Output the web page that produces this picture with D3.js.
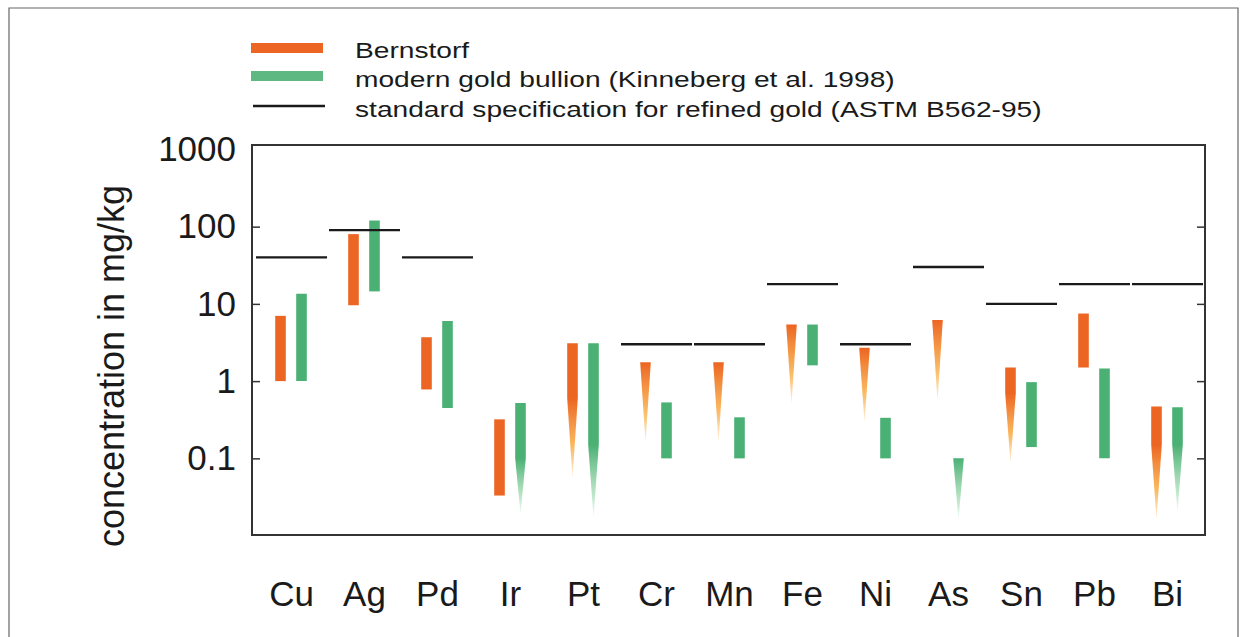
<!DOCTYPE html>
<html>
<head>
<meta charset="utf-8">
<script src="https://cdn.jsdelivr.net/npm/d3@7"></script>
<style>
  body { margin: 0; background: #fff; }
  text { font-family: "Liberation Sans", Arial, Helvetica, sans-serif; fill: #1a1a1a; }
</style>
</head>
<body>
<svg id="chart" width="1246" height="637"></svg>
<script>
// elements on the x axis
var elements = ["Cu", "Ag", "Pd", "Ir", "Pt", "Cr", "Mn", "Fe", "Ni", "As", "Sn", "Pb", "Bi"];

// Bernstorf gold: upper value, value where the bar starts to taper, lower value (mg/kg)
var bernTop   = [7,   80,  3.7, 0.32,  3.1,  1.75, 1.75, 5.4, 2.7,  6.2,  1.5,   7.5, 0.47];
var bernTaper = [1,   9.6, 0.78, 0.033, 0.6, 1.75, 1.75, 5.4, 2.7,  6.2,  0.7,   1.5, 0.15];
var bernLow   = [1,   9.6, 0.78, 0.033, 0.055, 0.16, 0.16, 0.5, 0.29, 0.55, 0.085, 1.5, 0.016];

// modern gold bullion (Kinneberg et al. 1998)
var bullTop   = [13.5, 120,  6,    0.52,  3.1,  0.53, 0.34, 5.4, 0.335, 0.1,   0.97, 1.46, 0.46];
var bullTaper = [1,    14.5, 0.45, 0.1,   0.15, 0.1,  0.1,  1.6, 0.1,   0.1,   0.14, 0.1,  0.15];
var bullLow   = [1,    14.5, 0.45, 0.019, 0.017, 0.1, 0.1,  1.6, 0.1,   0.016, 0.14, 0.1,  0.02];

// ASTM B562-95 limits (null = no limit drawn)
var astmLimit = [40, 90, 40, null, null, 3, 3, 18, 3, 30, 10, 18, 18];

var yTicks = [0.1, 1, 10, 100, 1000];
var legendLabels = ["Bernstorf", "modern gold bullion (Kinneberg et al. 1998)",
                    "standard specification for refined gold (ASTM B562-95)"];

var orange = "#ec6522", orangeLight = "#f9ad45",
    green = "#4bb074", greenLight = "#a3dbb4";

var frame = {left: 252, right: 1205, top: 145, bottom: 535};

var svg = d3.select("#chart");
var defs = svg.append("defs");

// outer figure border
svg.append("path")
    .attr("d", "M9,640 L9,8 L1238,8 L1238,640")
    .attr("fill", "none")
    .attr("stroke", "#666")
    .attr("stroke-width", 1.2);

var x = d3.scaleBand().domain(elements).range([255, 1204]);
var y = d3.scaleLog().domain([0.01, 1140]).range([535.6, 145]);

// y axis left and right, ticks inside
var left = svg.append("g")
    .attr("transform", "translate(" + frame.left + ",0)")
    .call(d3.axisLeft(y).tickValues(yTicks).tickSizeInner(-8).tickSizeOuter(0)
      .tickPadding(17).tickFormat(function(d) { return d < 1 ? d3.format(".1f")(d) : d; }));
left.select(".domain").remove();
left.selectAll(".tick line").attr("stroke", "#333").attr("stroke-width", 1.5)
    .filter(function(d) { return d === 1000; }).remove();
left.selectAll(".tick text")
    .attr("x", -16)
    .style("font-size", "35px")
    .style("font-family", "Liberation Sans, Arial, sans-serif")
    .attr("fill", "#1a1a1a");

var right = svg.append("g")
    .attr("transform", "translate(" + frame.right + ",0)")
    .call(d3.axisRight(y).tickValues(yTicks).tickSizeInner(-8).tickSizeOuter(0).tickFormat(""));
right.select(".domain").remove();
right.selectAll(".tick line").attr("stroke", "#333").attr("stroke-width", 1.5)
    .filter(function(d) { return d === 1000; }).remove();

// x labels
var bottom = svg.append("g")
    .attr("transform", "translate(0," + frame.bottom + ")")
    .call(d3.axisBottom(x).tickSize(0).tickPadding(46));
bottom.select(".domain").remove();
bottom.selectAll(".tick text")
    .style("font-size", "35px")
    .style("font-family", "Liberation Sans, Arial, sans-serif")
    .attr("fill", "#1a1a1a");

// y title
svg.append("text")
    .attr("transform", "translate(124,366) rotate(-90)")
    .style("text-anchor", "middle")
    .style("font-size", "36px")
    .text("concentration in mg/kg");

// bars
function barPath(cx, top, taper, low) {
  var w = 5.3;
  return "M" + (cx - w) + "," + y(top) +
         "L" + (cx + w) + "," + y(top) +
         "L" + (cx + w) + "," + y(taper) +
         "L" + cx + "," + y(low) +
         "L" + (cx - w) + "," + y(taper) + "Z";
}

function drawSeries(name, tops, tapers, lows, offset, col, colLight) {
  elements.forEach(function(el, i) {
    var cx = x(el) + x.bandwidth() / 2 + offset;
    var fill = col;
    if (lows[i] < tapers[i]) {
      var id = name + "-" + el;
      var g = defs.append("linearGradient")
          .attr("id", id)
          .attr("gradientUnits", "userSpaceOnUse")
          .attr("x1", 0).attr("x2", 0)
          .attr("y1", y(tapers[i])).attr("y2", y(lows[i]));
      g.append("stop").attr("offset", 0).attr("stop-color", col);
      g.append("stop").attr("offset", 0.6).attr("stop-color", colLight).attr("stop-opacity", 0.85);
      g.append("stop").attr("offset", 1).attr("stop-color", colLight).attr("stop-opacity", 0.15);
      fill = "url(#" + id + ")";
    }
    svg.append("path")
        .attr("d", barPath(cx, tops[i], tapers[i], lows[i]))
        .attr("fill", fill);
  });
}

drawSeries("bern", bernTop, bernTaper, bernLow, -11, orange, orangeLight);
drawSeries("bull", bullTop, bullTaper, bullLow, 10, green, greenLight);

// ASTM lines
elements.forEach(function(el, i) {
  if (astmLimit[i] == null) return;
  svg.append("line")
      .attr("x1", x(el) + 1).attr("x2", x(el) + x.bandwidth() - 1)
      .attr("y1", y(astmLimit[i])).attr("y2", y(astmLimit[i]))
      .attr("stroke", "#1a1a1a")
      .attr("stroke-width", 2.4);
});

// frame
svg.append("rect")
    .attr("x", frame.left).attr("y", frame.top)
    .attr("width", frame.right - frame.left).attr("height", frame.bottom - frame.top)
    .attr("fill", "none")
    .attr("stroke", "#333")
    .attr("stroke-width", 2);

// legend
var legend = svg.append("g");
var legendY = [58, 87, 117];
legend.append("rect").attr("x", 251).attr("y", 43).attr("width", 72).attr("height", 10).attr("fill", orange);
legend.append("rect").attr("x", 251).attr("y", 71).attr("width", 72).attr("height", 10).attr("fill", green).attr("opacity", 0.9);
legend.append("line").attr("x1", 253).attr("x2", 325).attr("y1", 106).attr("y2", 106)
    .attr("stroke", "#1a1a1a").attr("stroke-width", 2.4);
legendLabels.forEach(function(t, i) {
  legend.append("text")
      .attr("transform", "translate(355," + legendY[i] + ") scale(1.28,1)")
      .style("font-size", "22px")
      .text(t);
});
</script>
</body>
</html>
